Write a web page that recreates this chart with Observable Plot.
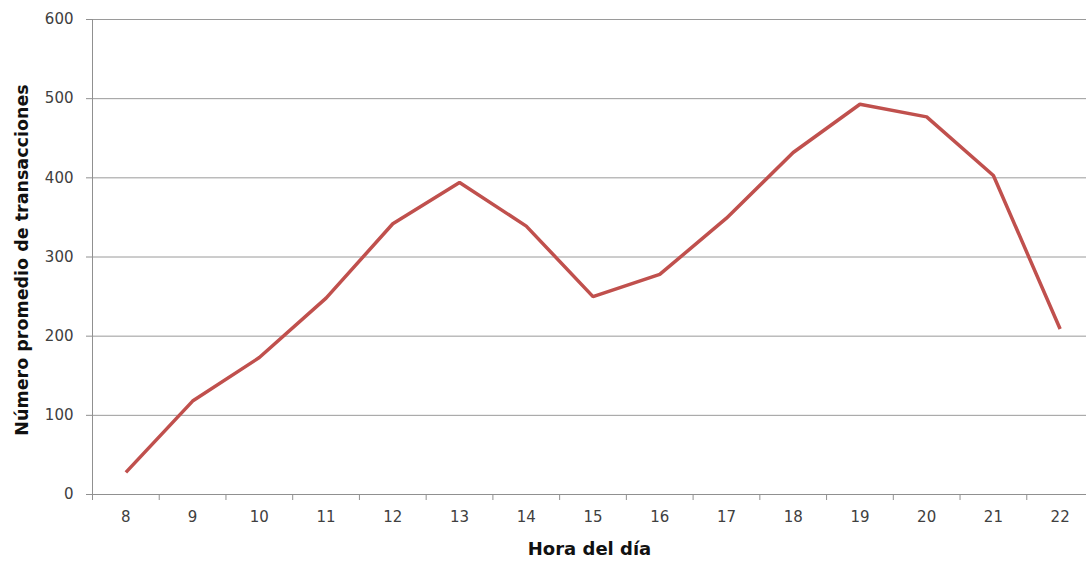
<!DOCTYPE html>
<html>
<head>
<meta charset="utf-8">
<script src="https://cdn.jsdelivr.net/npm/d3@7"></script>
<script src="https://cdn.jsdelivr.net/npm/@observablehq/plot@0.6"></script>
<style>
  html, body { margin: 0; padding: 0; background: #fff; overflow: hidden; }
  svg { display: block; }
</style>
</head>
<body>
<div id="chart"></div>
<script>
// Average number of transactions by hour of the day
const hours = [8, 9, 10, 11, 12, 13, 14, 15, 16, 17, 18, 19, 20, 21, 22];
const transactions = [28, 118, 173, 248, 342, 394, 339, 250, 278, 349, 432, 493, 477, 403, 209];
const yTicks = [0, 100, 200, 300, 400, 500, 600];
const xTitle = "Hora del día";
const yTitle = "Número promedio de transacciones";

const data = hours.map((h, i) => ({hour: h, value: transactions[i]}));
// category boundaries for the x tick marks (between hours)
const boundaries = d3.range(hours[0] - 0.5, hours[hours.length - 1] + 1, 1);

const chartW = 1086, chartH = 562;
const mLeft = 92, mTop = 19, mBottom = 68;

const chart = Plot.plot({
  width: chartW,
  height: chartH,
  marginLeft: mLeft,
  marginRight: 0,
  marginTop: mTop,
  marginBottom: mBottom,
  style: {fontFamily: "DejaVu Sans, sans-serif", fontSize: "15px", color: "#404040", background: "#fff"},
  x: {type: "linear", domain: [hours[0] - 0.5, hours[hours.length - 1] + 0.5], range: [mLeft, 1093]},
  y: {domain: [0, 600]},
  marks: [
    Plot.gridY(yTicks.filter(t => t > 0), {stroke: "#9a9a9a", strokeOpacity: 1, strokeWidth: 1}),
    Plot.axisY({ticks: yTicks, tickSize: 6, tickPadding: 13, stroke: "#909090", fill: "#404040", label: null}),
    Plot.axisX({ticks: hours, tickSize: 0, tickPadding: 17, fill: "#404040", label: null}),
    Plot.axisX({ticks: boundaries, tickSize: 6, tickFormat: () => "", stroke: "#909090", label: null}),
    Plot.ruleY([0], {stroke: "#909090"}),
    Plot.ruleX([boundaries[0]], {stroke: "#909090"}),
    Plot.line(data, {x: "hour", y: "value", stroke: "#C0504D", strokeWidth: 3.5, strokeLinejoin: "miter", strokeLinecap: "butt"}),
    Plot.text([xTitle], {frameAnchor: "bottom", dy: 55, lineAnchor: "middle", fontWeight: "bold", fontSize: 18, fill: "#111"}),
    Plot.text([yTitle], {frameAnchor: "left", dx: -70, dy: 3, rotate: -90, textAnchor: "middle", lineAnchor: "middle", fontWeight: "bold", fontSize: 17.5, fill: "#111"})
  ]
});

document.getElementById("chart").appendChild(chart);
</script>
</body>
</html>
